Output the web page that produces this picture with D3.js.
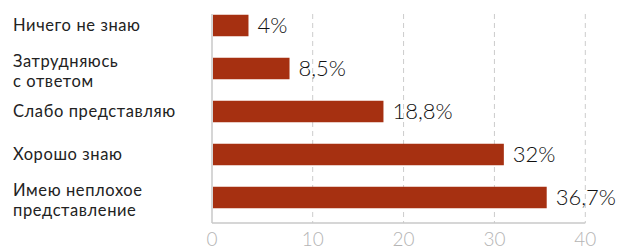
<!DOCTYPE html>
<html>
<head>
<meta charset="utf-8">
<script src="https://cdn.jsdelivr.net/npm/d3@7"></script>
<style>
  body { margin: 0; background: #fff; }
</style>
</head>
<body>
<div class="canvas"></div>
<script>
// data
var categories = [["Ничего не знаю"], ["Затрудняюсь", "с ответом"], ["Слабо представляю"], ["Хорошо знаю"], ["Имею неплохое", "представление"]];
var values = [4, 8.5, 18.8, 32, 36.7];
var valueLabels = ["4%", "8,5%", "18,8%", "32%", "36,7%"];
var ticks = [0, 10, 20, 30, 40];

var svg = d3.select(".canvas").append("svg").attr("width", 620).attr("height", 249);

var axis_x = 212;
var plot = { top: 14, bottom: 223 };

// bars scale
var x = d3.scaleLinear().domain([0, 40]).range([axis_x, axis_x + 40 * 9.12]);
// grid / tick positions (0 sits on the axis line)
var gx = d3.scaleLinear().domain([0, 10, 40]).range([axis_x, 312.7, 585.3]);

var y = d3.scaleBand().domain(d3.range(categories.length)).range([4, 219])
    .paddingInner(0.5).paddingOuter(0.25);

// grid lines
svg.selectAll(".grid")
    .data(ticks.slice(1))
    .enter().append("line")
    .attr("x1", d => gx(d)).attr("x2", d => gx(d))
    .attr("y1", plot.top).attr("y2", plot.bottom)
    .attr("stroke", "#ccc")
    .attr("stroke-width", 1)
    .attr("stroke-dasharray", "5,4");

// axis lines
svg.append("line")
    .attr("x1", axis_x).attr("x2", axis_x)
    .attr("y1", plot.top).attr("y2", plot.bottom)
    .attr("stroke", "#c8c8c8").attr("stroke-width", 1.5);
svg.append("line")
    .attr("x1", axis_x).attr("x2", gx(40))
    .attr("y1", plot.bottom).attr("y2", plot.bottom)
    .attr("stroke", "#c8c8c8").attr("stroke-width", 1.5);

// tick labels
svg.selectAll(".tick")
    .data(ticks)
    .enter().append("text")
    .attr("x", d => gx(d))
    .attr("y", 246)
    .attr("text-anchor", "middle")
    .attr("font-family", "Lato")
    .attr("font-weight", 300)
    .attr("font-size", "19px")
    .attr("fill", "#b5b5b5")
    .text(d => d);

// bars
svg.selectAll(".bar")
    .data(values)
    .enter().append("rect")
    .attr("x", axis_x + 1)
    .attr("y", (d, i) => y(i))
    .attr("width", d => x(d) - axis_x - 1)
    .attr("height", y.bandwidth())
    .attr("fill", "#a63011");

// value labels
svg.selectAll(".val")
    .data(values)
    .enter().append("text")
    .attr("x", d => x(d) + 9)
    .attr("y", (d, i) => y(i) + y.bandwidth() / 2)
    .attr("dy", "0.36em")
    .attr("font-family", "Lato")
    .attr("font-weight", 300)
    .attr("font-size", "22px")
    .attr("fill", "#111")
    .text((d, i) => valueLabels[i]);

// category labels
var lineH = 20;
categories.forEach(function (lines, i) {
    var cy = y(i) + y.bandwidth() / 2 + 5.5 - (lines.length - 1) * 7;
    lines.forEach(function (l, j) {
        svg.append("text")
            .attr("x", 13)
            .attr("y", cy + j * lineH)
            .attr("font-family", "Lato")
            .attr("font-size", "16.5px")
            .attr("letter-spacing", "0.6px")
            .attr("fill", "#222")
            .text(l);
    });
});
</script>
</body>
</html>
